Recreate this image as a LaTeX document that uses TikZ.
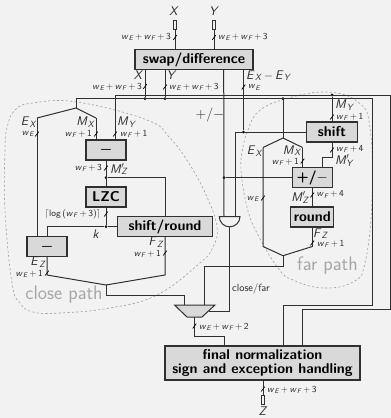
\documentclass[tikz,border=0pt]{standalone}
\usepackage{fontspec}
\usetikzlibrary{calc}
\definecolor{bgc}{HTML}{F2F2F2}
\definecolor{boxc}{HTML}{D9D9D9}
\definecolor{linec}{HTML}{303030}
\definecolor{labc}{HTML}{2A2A2A}
\newcommand{\vv}[2]{\textit{#1}\kern.03em\raisebox{-.28ex}{\scalebox{.72}{\textit{#2}}}}
\newcommand{\vp}[2]{\textit{#1}\rlap{\raisebox{.15ex}{$'$}}\raisebox{-.28ex}{\scalebox{.72}{\textit{#2}}}}
\newcommand{\ww}[1]{\vv{w}{#1}}
\newcommand{\pl}{\,$+$\,}
\newcommand{\mn}{\,$-$\,}
\newcommand{\wew}{\ww{E}\pl\ww{F}}
\tikzset{
  bx/.style={draw=linec,fill=boxc,line width=1.05pt,inner sep=0pt,align=center,font=\sffamily\bfseries\fontsize{14.2}{14.2}\selectfont},
  wire/.style={draw=linec,line width=1pt},
  tk/.style={draw=black,line width=.7pt},
  sz/.style={inner sep=0pt,text=labc,font=\sffamily\fontsize{9.2}{10}\selectfont},
  nm/.style={inner sep=0pt,text=labc,font=\sffamily\fontsize{12.5}{14}\selectfont},
  cloud/.style={draw=gray!75,line width=.6pt,dash pattern=on 2.2pt off 2.2pt},
  pathlab/.style={inner sep=0pt,text=gray!70,font=\sffamily\fontsize{19.5}{21}\selectfont},
  jn/.style={circle,fill=black,inner sep=0pt,minimum size=3pt},
  port/.style={draw=linec,fill=bgc,line width=1pt,inner sep=0pt,minimum width=3.6pt,minimum height=9pt}
}
\newcommand{\tick}[2]{\draw[tk] (#1-1.8,#2+2.4) -- (#1+1.8,#2-2.4);}
\begin{document}
\begin{tikzpicture}[x=1pt,y=-1pt]
\fill[bgc] (0,0) rectangle (391,418);
\useasboundingbox (0,0) rectangle (391,418);
% clouds
\draw[cloud] plot[smooth cycle,tension=.7] coordinates {(7,128) (15,110) (33,103) (77,102) (147,120) (170,138) (190,165) (207,197) (217,227) (213,247) (200,263) (157,295) (110,308) (60,313) (33,312) (20,303) (12,283) (5,210) (5,150)};
\draw[cloud] plot[smooth cycle,tension=.7] coordinates {(241,170) (243,147) (248,130) (258,112) (282,100) (325,92) (358,102) (370,128) (372,200) (365,263) (353,282) (323,288) (293,280) (278,268) (257,233) (247,207)};
% boxes
\node[bx,minimum width=118pt,minimum height=19.5pt] (swap) at (194,59.5) {swap/difference};
\node[bx,minimum width=40pt,minimum height=20pt] (sub1) at (106,150) {{\boldmath$-$}};
\node[bx,minimum width=40pt,minimum height=20pt] (lzc) at (106,197) {LZC};
\node[bx,minimum width=95pt,minimum height=19.5pt] (sr) at (165,226.5) {shift/round};
\node[bx,minimum width=40pt,minimum height=19.5pt] (sub2) at (47,246.5) {{\boldmath$-$}};
\node[bx,minimum width=51.7pt,minimum height=20pt] (shift) at (332,132) {shift};
\node[bx,minimum width=40pt,minimum height=20pt] (pm) at (312.3,177.5) {+/$-$};
\node[bx,minimum width=43.3pt,minimum height=20pt] (round) at (312.3,217) {round};
\node[bx,minimum width=195pt,minimum height=34pt] (fin) at (262.5,363) {final normalization\\sign and exception handling};
% ports
\node[port] (px) at (175,24.5) {};
\node[port] (py) at (214,24.5) {};
\node[port] (pz) at (263,400) {};
% mux and gate
\draw[draw=linec,fill=boxc,line width=1pt] (174.5,305) -- (215,305) -- (202,317) -- (187,317) -- cycle;
\coordinate (muxA) at (184.5,305);
\coordinate (muxB) at (204,305);
\coordinate (muxS) at (208.5,311);
\coordinate (muxO) at (194.5,317);
\draw[draw=linec,fill=bgc,line width=1pt] (219.3,216.5) -- (240,216.5) arc[start angle=0,end angle=180,radius=10.35] -- cycle;
\coordinate (gO) at (229.6,226.9);
\coordinate (gA) at (224,216.5);
\coordinate (gB) at (235.3,216.5);
% junctions
\node[jn] (jx) at (145,98.5) {};
\node[jn] (jy) at (165,98.5) {};
\node[jn] (jfar) at (283,98.5) {};
\node[jn] (jmy) at (332,95) {};
\node[jn] (jexp) at (243.5,132) {};
\node[jn] (jmz) at (106,177.5) {};
\node[jn] (jk) at (106,226.5) {};
\node[jn] (jsign) at (224,177.5) {};
% coordinates
\coordinate (busLo) at (76,98.5);
\coordinate (busHi) at (115,95);
\coordinate (forkL) at (76,108);
\coordinate (ex) at (37,118);
\coordinate (mx) at (96,118);
\coordinate (cl) at (47,275);
\coordinate (cr) at (165,275);
\coordinate (cm) at (106,285);
\coordinate (far) at (283,138);
\coordinate (fex) at (263,147.5);
\coordinate (fmx) at (302.5,147.5);
\coordinate (fl) at (263,246.5);
\coordinate (fr) at (312.3,246.5);
\coordinate (fb) at (283,255.7);
% wires
\draw[wire] (px) -- (px|-swap.north);
\draw[wire] (py) -- (py|-swap.north);
\draw[wire] (jx|-swap.south) -- (jx);
\draw[wire] (jy|-swap.south) -- (jy);
\draw[wire] (busLo) -- (372,98.5) -- (372,305) -- (283,305) -- (283,346);
\draw[wire] (busHi) -- (390.3,95) -- (390.3,309) -- (302,309) -- (302,346);
\draw[wire] (busLo) -- (forkL);
\draw[wire] (ex) -- (forkL) -- (mx);
\draw[wire] (ex) -- (ex|-sub2.north);
\draw[wire] (mx) -- (mx|-sub1.north);
\draw[wire] (busHi) -- (busHi|-sub1.north);
\draw[wire] (sub1) -- (lzc);
\draw[wire] (jmz) -| (sr.north);
\draw[wire] (lzc) -- (jk);
\draw[wire] (sr.west) -- (jk) -| (sub2.north);
\draw[wire] (sub2.south) -- (cl) -- (cm);
\draw[wire] (sr.south) -- (cr) -- (cm);
\draw[wire] (cm) -- (106,295) -| (muxA);
\draw[wire] (muxO) -- (194.5,336) -| (224,346);
\draw[wire] (fin.south-|pz) -- (pz);
\draw[wire] (223.7,69) -- (gA);
\draw[wire] (243.5,69) -- (jexp);
\draw[wire] (gB) |- (jexp) -- (shift.west);
\draw[wire] (gO) |- (muxS);
\draw[wire] (jfar) -- (far);
\draw[wire] (fex) -- (far) -- (fmx);
\draw[wire] (fex) -- (fl) -- (fb) -- (fr);
\draw[wire] (fmx) -- (fmx|-pm.north);
\draw[wire] (jmy) -- (shift.north-|jmy);
\draw[wire] (shift.south-|jmy) -- (332,157) -- (322.3,157) -- (322.3,167.5);
\draw[wire] (jsign) -- (pm.west);
\draw[wire] (pm) -- (round);
\draw[wire] (round) -- (fr);
\draw[wire] (fb) -- (283,266) -| (muxB);
% ticks
\tick{175}{37.5}
\tick{214}{37.5}
\tick{145}{86.5}
\tick{165}{87}
\tick{243.5}{87}
\tick{37}{134}
\tick{96}{134}
\tick{115}{134}
\tick{106}{168}
\tick{106}{214}
\tick{165}{253}
\tick{47}{273}
\tick{263}{198}
\tick{302.5}{161}
\tick{332}{117}
\tick{332}{150}
\tick{312.3}{195}
\tick{312.3}{243}
\tick{194.5}{326}
\tick{263}{389}
% labels
\node[nm] (lX) at (174,11.5) {\textit{X}};
\node[nm] (lY) at (214,11.5) {\textit{Y}};
\node[nm] (lZ) at (263,411.5) {\textit{Z}};
\node[sz,anchor=east] at (171,37) {\wew\pl3};
\node[sz,anchor=west] at (218,37) {\wew\pl3};
\node[nm] at (138.5,75) {\textit{X}};
\node[nm] at (171.5,75) {\textit{Y}};
\node[nm,anchor=west] at (246,75.5) {\vv{E}{X}\mn\vv{E}{Y}};
\node[sz,anchor=east] at (142,87) {\wew\pl3};
\node[sz,anchor=west] at (169,87) {\wew\pl3};
\node[sz,anchor=west] at (248,87.5) {\ww{E}};
\node[nm,font=\sffamily\fontsize{14}{15}\selectfont] at (210,114.5) {+/$-$};
\node[nm] at (28.5,122) {\vv{E}{X}};
\node[nm] at (85.5,122) {\vv{M}{X}};
\node[nm] at (126.5,122) {\vv{M}{Y}};
\node[sz] at (28,134) {\ww{E}};
\node[sz,anchor=east] at (92,134) {\ww{F}\pl1};
\node[sz,anchor=west] at (120,134) {\ww{F}\pl1};
\node[sz,anchor=east] at (102,167.5) {\ww{F}\pl3};
\node[nm,anchor=west] at (110,169) {\vp{M}{Z}};
\node[sz,anchor=east] at (101,214) {$\lceil$log\,(\ww{F}\pl3)$\rceil$};
\node[nm] at (96,234) {\textit{k}};
\node[nm] at (156,242) {\vv{F}{Z}};
\node[sz,anchor=east] at (161,254) {\ww{F}\pl1};
\node[nm] at (38,262) {\vv{E}{Z}};
\node[sz,anchor=east] at (43,274) {\ww{E}\pl1};
\node[nm,anchor=west] at (335,105) {\vv{M}{Y}};
\node[sz,anchor=west] at (336,116.5) {\ww{F}\pl1};
\node[sz,anchor=west] at (336,149) {\ww{F}\pl4};
\node[nm,anchor=west] at (335,160.5) {\vp{M}{Y}};
\node[nm] at (254.5,151) {\vv{E}{X}};
\node[nm] at (292,150.5) {\vv{M}{X}};
\node[sz,anchor=east] at (299,161.5) {\ww{F}\pl1};
\node[sz] at (253,199) {\ww{E}};
\node[nm] at (300,197.5) {\vp{M}{Z}};
\node[sz,anchor=west] at (316.5,194.5) {\ww{F}\pl4};
\node[nm] at (320.5,233.5) {\vv{F}{Z}};
\node[sz,anchor=west] at (317,243.5) {\ww{F}\pl1};
\node[sz,anchor=west,font=\sffamily\fontsize{10.4}{11}\selectfont] at (232,288.5) {close/far};
\node[sz,anchor=west] at (199,326.5) {\wew\pl2};
\node[sz,anchor=west] at (267,389.5) {\wew\pl3};
\node[pathlab] at (64,295) {close path};
\node[pathlab] at (327.5,265.5) {far path};
\end{tikzpicture}
\end{document}
